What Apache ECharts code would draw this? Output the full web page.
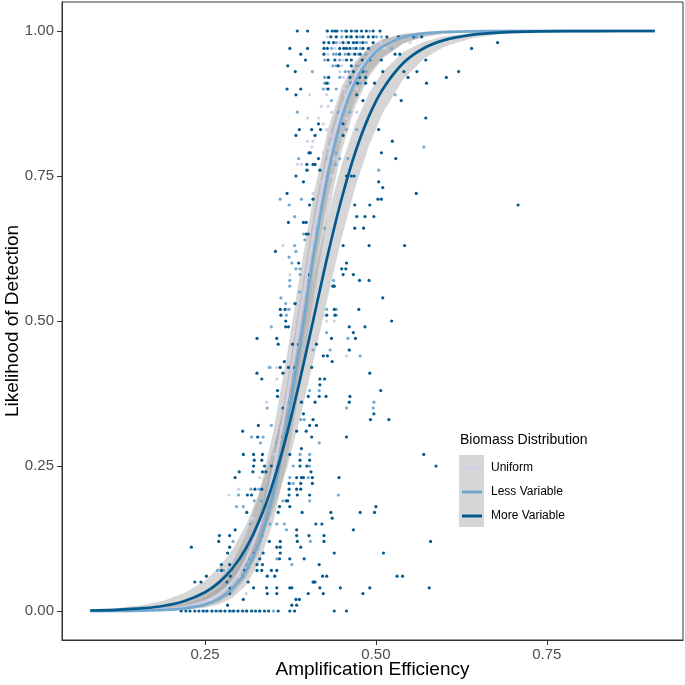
<!DOCTYPE html>
<html>
<head>
<meta charset="utf-8">
<script src="https://cdn.jsdelivr.net/npm/echarts@6.0.0/dist/echarts.min.js"></script>
<style>html,body{margin:0;padding:0;background:#fff}#chart{width:685px;height:685px}</style>
</head>
<body>
<div id="chart"></div>
<script>
// ---- Data ----
const seriesNames = ['Uniform', 'Less Variable', 'More Variable'];
const xTicks = [0.25, 0.50, 0.75];
const yTicks = [0.00, 0.25, 0.50, 0.75, 1.00];

// fitted curves (x grid and fitted probabilities, lower / upper confidence limits)
const curveX = [0.082,0.12,0.16,0.19,0.22,0.25,0.27,0.29,0.31,0.33,0.35,0.37,0.39,0.41,0.43,0.45,0.47,0.49,0.51,0.54,0.57,0.60,0.64,0.68,0.74,0.82,0.908];

const uniFit = [0.0001,0.0003,0.0011,0.0026,0.0064,0.0157,0.0282,0.0502,0.0879,0.1493,0.2423,0.3682,0.5150,0.6593,0.7790,0.8653,0.9213,0.9552,0.9749,0.9896,0.9958,0.9983,0.9995,0.9999,1,1,1];
const uniLo  = [0.00002,0.00008,0.0003,0.0009,0.0026,0.0075,0.0149,0.0296,0.0573,0.1062,0.1854,0.2994,0.4403,0.5866,0.7150,0.8131,0.8818,0.9269,0.9552,0.9790,0.9901,0.9954,0.9984,0.9994,0.9999,1,1];
const uniHi  = [0.0005,0.0013,0.0035,0.0075,0.0157,0.0326,0.0527,0.0840,0.1324,0.2059,0.3100,0.4427,0.5890,0.7251,0.8320,0.9047,0.9483,0.9729,0.9861,0.9949,0.9982,0.9994,0.9998,1,1,1,1];

const lessFit = [0.0001,0.0002,0.0007,0.0018,0.0045,0.0114,0.0209,0.0383,0.0689,0.1209,0.2036,0.3221,0.4690,0.6215,0.7533,0.8502,0.9134,0.9515,0.9733,0.9893,0.9958,0.9983,0.9995,0.9999,1,1,1];
const lessLo  = [0.00001,0.00005,0.0002,0.0006,0.0018,0.0054,0.0110,0.0225,0.0446,0.0852,0.1540,0.2585,0.3956,0.5464,0.6848,0.7935,0.8706,0.9210,0.9524,0.9783,0.9901,0.9955,0.9985,0.9995,0.9999,1,1];
const lessHi  = [0.0003,0.0008,0.0023,0.0051,0.0110,0.0238,0.0394,0.0645,0.1049,0.1688,0.2643,0.3932,0.5439,0.6913,0.8109,0.8934,0.9430,0.9706,0.9852,0.9948,0.9982,0.9994,0.9998,1,1,1,1];

const moreFit = [0.0009,0.0020,0.0048,0.0091,0.0173,0.0324,0.0489,0.0733,0.1084,0.1575,0.2232,0.3064,0.4044,0.5107,0.6161,0.7116,0.7913,0.8536,0.8996,0.9447,0.9702,0.9842,0.9932,0.9971,0.9992,0.9999,1];
const moreLo  = [0.0003,0.0008,0.0022,0.0046,0.0095,0.0199,0.0318,0.0504,0.0782,0.1185,0.1741,0.2465,0.3369,0.4386,0.5431,0.6440,0.7316,0.8027,0.8585,0.9167,0.9522,0.9728,0.9875,0.9942,0.9982,0.9996,0.9999];
const moreHi  = [0.0025,0.0050,0.0105,0.0179,0.0310,0.0523,0.0747,0.1056,0.1484,0.2063,0.2815,0.3736,0.4758,0.5825,0.6842,0.7708,0.8406,0.8932,0.9297,0.9637,0.9815,0.9908,0.9963,0.9986,0.9996,1,1];

// observed points: [detection rate, [amplification efficiencies]]
const uniRows = [
[1.00,[0.428]],[0.99,[0.429]],[0.98,[0.447,0.457,0.469,0.508,0.550]],[0.97,[0.440,0.513]],[0.96,[0.430,0.464]],
[0.95,[0.452]],[0.94,[0.450]],[0.93,[0.447]],[0.92,[0.452]],[0.91,[0.457]],[0.90,[0.427,0.455,0.472]],
[0.89,[0.403,0.428,0.455]],[0.88,[0.457]],[0.87,[0.420,0.430]],[0.86,[0.435,0.472]],[0.85,[0.400,0.416,0.457]],
[0.84,[0.423]],[0.83,[0.428]],[0.82,[0.435]],[0.81,[0.400,0.408]],[0.80,[0.406,0.430]],[0.79,[0.423]],
[0.78,[0.438]],[0.77,[0.385,0.391]],[0.76,[0.401]],[0.75,[0.435]],[0.74,[0.419]],[0.73,[0.435]],[0.72,[0.408]],
[0.71,[0.433]],[0.67,[0.406]],[0.63,[0.364]],[0.58,[0.374]],[0.52,[0.374]],[0.51,[0.423]],[0.50,[0.428,0.439]],
[0.44,[0.457]],[0.42,[0.343,0.355]],[0.40,[0.355]],[0.36,[0.340]],[0.35,[0.358]],[0.30,[0.318]],[0.27,[0.352]],
[0.23,[0.330]],[0.21,[0.299]],[0.20,[0.285]],[0.16,[0.320]],[0.13,[0.305]],[0.09,[0.290]],[0.06,[0.300]],
[0.03,[0.310]],[0.00,[0.260,0.280,0.300,0.320]]
];
const lessRows = [
[1.00,[0.450,0.455,0.469,0.491]],[0.99,[0.450,0.462,0.477,0.501,0.508,0.535,0.545,0.559]],[0.98,[0.442,0.477,0.486]],
[0.97,[0.435,0.467,0.477,0.523]],[0.96,[0.438,0.442,0.455,0.474,0.485]],[0.95,[0.425,0.447]],
[0.94,[0.437,0.442,0.472,0.477]],[0.93,[0.407,0.455,0.460,0.486]],[0.92,[0.425,0.430,0.447,0.469]],
[0.91,[0.425,0.430,0.477]],[0.90,[0.423,0.442]],[0.89,[0.528]],[0.88,[0.435]],[0.86,[0.385,0.445,0.462]],
[0.84,[0.445]],[0.83,[0.457,0.472]],[0.80,[0.570]],[0.79,[0.442]],[0.78,[0.387,0.447,0.459]],[0.77,[0.441]],
[0.76,[0.504]],[0.75,[0.428]],[0.71,[0.360,0.391]],[0.70,[0.373]],[0.68,[0.381]],[0.66,[0.411,0.425]],
[0.65,[0.394]],[0.64,[0.396]],[0.63,[0.381]],[0.62,[0.383]],[0.61,[0.373]],[0.60,[0.377]],[0.59,[0.383,0.389]],
[0.58,[0.389]],[0.57,[0.374,0.399,0.438]],[0.56,[0.374]],[0.55,[0.388]],[0.54,[0.361]],[0.53,[0.368,0.381]],
[0.52,[0.372,0.428,0.442]],[0.51,[0.369,0.442]],[0.49,[0.347]],[0.48,[0.428]],[0.47,[0.459]],
[0.45,[0.408,0.433,0.461]],[0.44,[0.477]],[0.42,[0.345]],[0.38,[0.403,0.417]],[0.37,[0.378]],
[0.36,[0.372,0.497]],[0.35,[0.341,0.457,0.496]],[0.33,[0.390,0.395]],[0.32,[0.347]],[0.30,[0.318,0.335]],
[0.29,[0.331,0.355,0.417]],[0.27,[0.389,0.403]],[0.25,[0.379,0.403]],[0.23,[0.374,0.401]],[0.22,[0.379]],
[0.21,[0.317,0.329]],[0.20,[0.299,0.445]],[0.19,[0.322,0.332,0.364,0.403]],[0.18,[0.296,0.306,0.340]],
[0.15,[0.316,0.345,0.355,0.366]],[0.14,[0.369]],[0.12,[0.291,0.404]],[0.10,[0.305]],[0.09,[0.315,0.355]],
[0.08,[0.311,0.377]],[0.07,[0.268,0.277,0.289]],[0.00,[0.250,0.270,0.290,0.310,0.330,0.350]]
];
const moreRows = [
[1.00,[0.385,0.400,0.429,0.436,0.440,0.443,0.457,0.464,0.472,0.479,0.486,0.496,0.506]],
[0.99,[0.434,0.442,0.457,0.464,0.472,0.481,0.489,0.496,0.516,0.533,0.555,0.567]],
[0.98,[0.424,0.431,0.438,0.452,0.460,0.467,0.472,0.481,0.496,0.678]],
[0.97,[0.374,0.400,0.424,0.429,0.447,0.453,0.457,0.462,0.471,0.481,0.489,0.640]],
[0.96,[0.390,0.424,0.447,0.460,0.469,0.477,0.528,0.535]],
[0.95,[0.397,0.430,0.440,0.457,0.464,0.480,0.491,0.508,0.573]],
[0.94,[0.371,0.445,0.464,0.481]],
[0.93,[0.382,0.467,0.477,0.481,0.510,0.541,0.560,0.621]],
[0.92,[0.431,0.462,0.476,0.485,0.547,0.603]],
[0.91,[0.428,0.464,0.473,0.485,0.498,0.574]],
[0.90,[0.370,0.390,0.430]],[0.89,[0.383,0.472]],[0.88,[0.481,0.537]],[0.85,[0.573]],[0.84,[0.416,0.452]],
[0.83,[0.388,0.406,0.419,0.504]],[0.82,[0.383,0.411,0.452]],[0.81,[0.524]],[0.79,[0.402,0.404,0.508]],
[0.78,[0.416,0.430,0.529]],[0.77,[0.399,0.408,0.411]],[0.76,[0.399,0.418]],[0.75,[0.383,0.457,0.464,0.468]],
[0.74,[0.394,0.504]],[0.73,[0.510]],[0.72,[0.370,0.559]],[0.71,[0.408,0.503,0.508]],[0.70,[0.403,0.469,0.491,0.708]],
[0.68,[0.472,0.484,0.497]],[0.67,[0.372,0.394,0.398]],[0.66,[0.469,0.482]],[0.65,[0.398,0.401]],
[0.63,[0.452,0.490,0.542]],[0.62,[0.353]],[0.60,[0.387,0.457]],[0.59,[0.450,0.456]],[0.58,[0.401,0.452,0.467]],
[0.57,[0.476,0.490]],[0.56,[0.437,0.439]],[0.54,[0.510]],[0.53,[0.382]],[0.52,[0.360,0.367,0.439,0.475]],
[0.51,[0.361,0.428,0.440]],[0.50,[0.368,0.523]],[0.49,[0.368,0.372,0.461,0.484]],[0.48,[0.467]],
[0.47,[0.326,0.355,0.435,0.470]],[0.46,[0.357,0.378,0.384,0.413]],[0.45,[0.461]],[0.44,[0.423,0.429]],
[0.43,[0.366,0.436]],[0.42,[0.360,0.372,0.379,0.406]],[0.41,[0.326,0.364,0.491]],[0.40,[0.333,0.418,0.425]],
[0.39,[0.418]],[0.38,[0.356,0.507]],[0.37,[0.356,0.401,0.417,0.427,0.462]],[0.36,[0.391,0.411,0.461]],
[0.35,[0.364]],[0.34,[0.394,0.497]],[0.33,[0.408,0.492,0.519]],[0.32,[0.328,0.403,0.413]],
[0.31,[0.305,0.384,0.398]],[0.30,[0.327,0.360,0.406,0.457]],[0.28,[0.391]],
[0.27,[0.306,0.321,0.334,0.374,0.570]],[0.26,[0.322,0.333,0.389,0.403]],
[0.25,[0.321,0.337,0.347,0.389,0.399,0.588]],[0.24,[0.300,0.320,0.334,0.339,0.405]],
[0.23,[0.294,0.384,0.391,0.394,0.407,0.446]],[0.22,[0.373,0.390,0.407]],[0.21,[0.323,0.333,0.373,0.384,0.390]],
[0.20,[0.312,0.318,0.373,0.385,0.403]],[0.19,[0.369,0.371]],[0.18,[0.359,0.374,0.500]],
[0.17,[0.311,0.357,0.392,0.434,0.477,0.498]],[0.16,[0.436]],[0.15,[0.412,0.421]],[0.14,[0.294,0.384,0.467]],
[0.13,[0.271,0.286,0.333,0.384,0.402,0.424]],[0.12,[0.270,0.344,0.360,0.385,0.424,0.580]],
[0.11,[0.230,0.286,0.355,0.360,0.390]],[0.10,[0.283,0.322,0.335,0.360,0.439,0.511]],
[0.09,[0.330,0.359,0.374,0.395]],[0.08,[0.274,0.286,0.326,0.334,0.417]],
[0.07,[0.274,0.308,0.326,0.333,0.347,0.355]],[0.06,[0.252,0.287,0.305,0.341,0.352,0.422,0.428,0.531,0.539]],
[0.05,[0.235,0.244,0.282,0.313,0.408,0.409,0.411]],[0.04,[0.286,0.321,0.340,0.355,0.374,0.377,0.418,0.448,0.491,0.578]],
[0.03,[0.286,0.341,0.355,0.401,0.423,0.481]],[0.02,[0.306,0.383,0.388]],[0.01,[0.283,0.377,0.384]],
[0.00,[0.215,0.222,0.228,0.235,0.241,0.247,0.253,0.260,0.266,0.273,0.279,0.286,0.292,0.298,0.305,0.311,0.318,0.324,0.330,0.337,0.343,0.357,0.374,0.381,0.439,0.457]]
];

// ---- Styling ----
const colors = ['#d0d1e6', '#74a9cf', '#045a8d'];
const FONT = '"Liberation Sans", Arial, Helvetica, sans-serif';
const bandColor = 'rgba(153,153,153,0.4)';

const pts = rows => rows.flatMap(([y, xs]) => xs.map(x => [x, y]));
const pairs = ys => curveX.map((x, i) => [x, ys[i]]);

function scatter(rows, color) {
  return { type: 'scatter', data: pts(rows), symbolSize: 3.2, silent: true,
    itemStyle: { color: color, opacity: 1 } };
}
// confidence ribbon: one polygon through upper limits then back along lower limits
function band(lo, hi) {
  return {
    type: 'custom', silent: true,
    data: curveX.map((x, i) => [x, lo[i], hi[i]]),
    encode: { x: 0, y: [1, 2] },
    renderItem: function (params, api) {
      if (params.dataIndex !== 0) return null;
      const up = curveX.map((x, i) => api.coord([x, hi[i]]));
      const dn = curveX.map((x, i) => api.coord([x, lo[i]])).reverse();
      return { type: 'polygon', shape: { points: up.concat(dn) }, style: { fill: bandColor } };
    }
  };
}
function fit(name, ys, color) {
  return { type: 'line', name: name, data: pairs(ys), symbol: 'none', smooth: 0.3, silent: true,
    itemStyle: { color: color }, lineStyle: { color: color, width: 2.7 } };
}

const axisCommon = {
  splitLine: { show: false },
  axisLine: { show: true, onZero: false, lineStyle: { color: '#333333', width: 1 } },
  axisTick: { show: true, inside: false, length: 5, lineStyle: { color: '#333333', width: 1 } },
  nameTextStyle: { fontFamily: FONT, fontSize: 19, color: '#000' },
  nameLocation: 'middle', nameMoveOverlap: false
};

const chart = echarts.init(document.getElementById('chart'), null, { renderer: 'canvas' });
chart.setOption({
  animation: false,
  backgroundColor: '#ffffff',
  grid: { left: 62, right: 2, top: 2, bottom: 45, containLabel: false, outerBoundsMode: 'none',
    show: true, borderColor: '#333333', borderWidth: 1, backgroundColor: 'transparent' },
  xAxis: Object.assign({}, axisCommon, {
    type: 'value', min: 0.0407, max: 0.9493,
    name: 'Amplification Efficiency', nameGap: 20,
    axisTick: Object.assign({}, axisCommon.axisTick, { customValues: xTicks }),
    axisLabel: { customValues: xTicks, margin: 7, fontFamily: FONT, fontSize: 15, color: '#4d4d4d',
      formatter: v => v.toFixed(2) }
  }),
  yAxis: Object.assign({}, axisCommon, {
    type: 'value', min: -0.05, max: 1.05,
    name: 'Likelihood of Detection', nameGap: 40,
    axisTick: Object.assign({}, axisCommon.axisTick, { customValues: yTicks }),
    axisLabel: { customValues: yTicks, margin: 8, fontFamily: FONT, fontSize: 15, color: '#4d4d4d',
      formatter: v => v.toFixed(2) }
  }),
  legend: {
    orient: 'vertical', left: 462, top: 461, padding: 0, itemGap: 10,
    itemWidth: 20, itemHeight: 3, icon: 'rect', selectedMode: false,
    data: seriesNames,
    textStyle: { fontFamily: FONT, fontSize: 12, color: '#000', lineHeight: 14, padding: [0, 0, 0, 4] }
  },
  graphic: [
    { type: 'rect', left: 459, top: 455, z: 0, shape: { width: 25, height: 72 }, style: { fill: '#d6d6d6' } },
    { type: 'text', left: 460, top: 433, z: 10, style: { text: 'Biomass Distribution', fontFamily: FONT, fontSize: 14, fill: '#000' } }
  ],
  series: [
    scatter(uniRows, colors[0]),
    scatter(lessRows, colors[1]),
    scatter(moreRows, colors[2]),
    band(uniLo, uniHi),
    fit(seriesNames[0], uniFit, colors[0]),
    band(lessLo, lessHi),
    fit(seriesNames[1], lessFit, colors[1]),
    band(moreLo, moreHi),
    fit(seriesNames[2], moreFit, colors[2])
  ]
});
</script>
</body>
</html>
